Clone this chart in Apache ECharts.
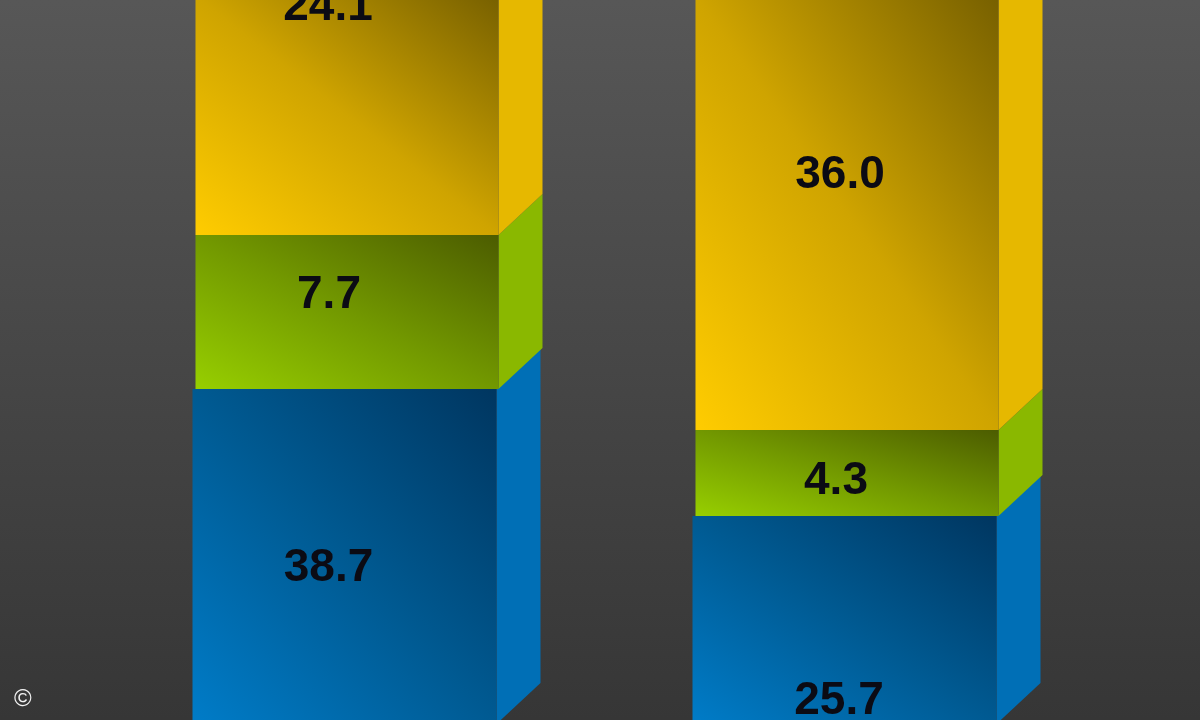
<!DOCTYPE html>
<html>
<head>
<meta charset="utf-8">
<style>html,body{margin:0;padding:0;background:#444}#c{width:1200px;height:720px}</style>
<script src="https://cdn.jsdelivr.net/npm/echarts@6/dist/echarts.min.js"></script>
</head>
<body>
<div id="c"></div>
<script>
// Data
const categories = ['A', 'B'];
const blueValues = [38.7, 25.7];
const greenValues = [7.7, 4.3];
const yellowValues = [24.1, 36.0];
// The right stack sits higher than its printed values imply (axis units)
const stackLift = [0, 6.65];

// Style
const looks = {
  blue:   {stops: ['#007cc8', '#005a92', '#003660'], side: '#006fb6', dx: -3, labelDx: [-18.5, -8], labelDy: [-208, -72]},
  green:  {stops: ['#97cf00', '#729800', '#4c5c00'], side: '#8ab800', dx: 0,  labelDx: [-18, -11], labelDy: [-17, 8]},
  yellow: {stops: ['#ffcc00', '#cfa400', '#776000'], side: '#e6b800', dx: 0,  labelDx: [-19, -7], labelDy: [13, 105]}
};
const depthX = 44, depthY = 41, barWidth = 303;

// Colour runs corner to corner, with the other two corners on the same colour
function cornerGradient(w, h, stops) {
  const s = 2 * w * h / (w * w + h * h);
  return new echarts.graphic.LinearGradient(0, 1, s * h / w, 1 - s * w / h, [
    {offset: 0, color: stops[0]}, {offset: 0.5, color: stops[1]}, {offset: 1, color: stops[2]}]);
}

function makeSeries(name, values, below) {
  const look = looks[name];
  return {
    name, type: 'custom', coordinateSystem: 'cartesian2d', silent: true,
    data: values.map((v, i) => [i, v, below[i] + stackLift[i]]),
    encode: {x: 0, y: 1},
    renderItem(params, api) {
      const i = api.value(0), v = api.value(1), base = api.value(2);
      const p0 = api.coord([i, base]), p1 = api.coord([i, base + v]);
      const x0 = p0[0] - barWidth / 2 + look.dx, x1 = x0 + barWidth + (look.dx ? 1 : 0);
      const yB = p0[1], yT = p1[1];
      const visT = Math.max(yT, -4), visB = Math.min(yB, 724);
      const cy = (yT + yB) / 2 + look.labelDy[i];
      return {
        type: 'group',
        children: [
          {type: 'polygon',
           shape: {points: [[x1, visB], [x1 + depthX, visB - depthY], [x1 + depthX, Math.max(yT - depthY, -4)], [x1, visT]]},
           style: {fill: look.side}},
          {type: 'rect',
           shape: {x: x0, y: visT, width: x1 - x0, height: visB - visT},
           style: {fill: cornerGradient(x1 - x0, visB - visT, look.stops)}},
          {type: 'text', z2: 10,
           style: {text: v.toFixed(1), x: p0[0] + look.labelDx[i], y: cy,
             align: 'center', verticalAlign: 'middle',
             font: 'bold 46px "Liberation Sans", Arial, sans-serif', fill: '#0b0b14'}}
        ]
      };
    }
  };
}

const chart = echarts.init(document.getElementById('c'), null, {renderer: 'canvas'});
chart.setOption({
  animation: false,
  backgroundColor: new echarts.graphic.LinearGradient(0, 0, 0, 1, [
    {offset: 0, color: '#575757'}, {offset: 1, color: '#363636'}]),
  title: {text: '©', left: 9, top: 682, textStyle: {color: '#f2f2f2', fontSize: 24, fontWeight: 'normal', fontFamily: '"Liberation Sans", Arial, sans-serif'}},
  // The frame shows only part of the stacks: the axis window starts above zero
  grid: {left: 97, right: 103, top: 0, bottom: 0, containLabel: false},
  xAxis: {type: 'category', data: categories, show: false},
  yAxis: {type: 'value', min: 22.15, max: 58.15, show: false},
  series: [
    makeSeries('blue', blueValues, [0, 0]),
    makeSeries('green', greenValues, blueValues),
    makeSeries('yellow', yellowValues, blueValues.map((b, i) => b + greenValues[i]))
  ]
});
</script>
</body>
</html>
